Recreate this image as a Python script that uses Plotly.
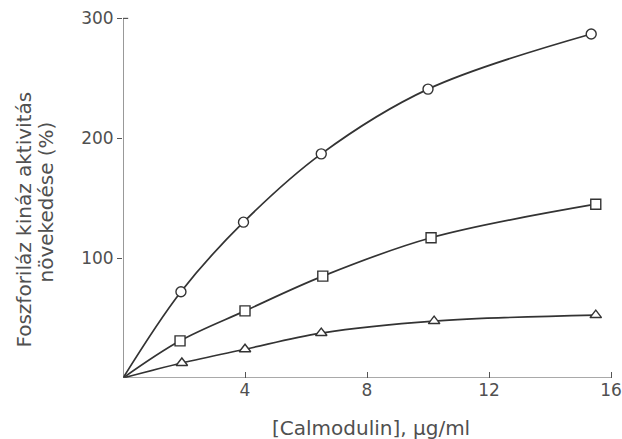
import plotly.graph_objects as go

# Data
x_circle = [0, 1.9, 3.95, 6.5, 10.0, 15.35]
y_circle = [0, 72, 130, 187, 241, 287]

x_square = [0, 1.87, 4.0, 6.55, 10.1, 15.5]
y_square = [0, 31, 56, 85, 117, 145]

x_triangle = [0, 1.93, 4.0, 6.5, 10.2, 15.5]
y_triangle = [0, 12.5, 24, 37.5, 47.5, 52.5]

x_ticks = [4, 8, 12, 16]
y_ticks = [100, 200, 300]

LINE = "#333333"
AXIS = "#555555"
TEXT = "#505050"
FONT = "DejaVu Sans"

fig = go.Figure()

def add_series(xs, ys, symbol):
    fig.add_trace(go.Scatter(
        x=xs, y=ys, mode="lines",
        line=dict(color=LINE, width=1.7, shape="spline", smoothing=1.0),
        hoverinfo="skip", showlegend=False))
    fig.add_trace(go.Scatter(
        x=xs[1:], y=ys[1:], mode="markers",
        marker=dict(symbol=symbol, size=10, color="white",
                    line=dict(color=LINE, width=1.4)),
        showlegend=False))

add_series(x_circle, y_circle, "circle")
add_series(x_square, y_square, "square")
add_series(x_triangle, y_triangle, "triangle-up")

# 100 y-units = 120 px, 1 x-unit = 30.625 px; origin at (123, 378)
fw, fh = 622, 439
YMAX = 302
XPX = 30.625
L = 123
W = fw - L
XMAX = W / XPX
H = 360 * YMAX / 300
T = 18 - (H - 360)

def px(x):
    return (x - L) / W

def py(y):
    return (378 - y) / H

tick_font = dict(size=17, color=TEXT, family=FONT)
title_font = dict(size=20, color=TEXT, family=FONT)

fig.update_layout(
    width=fw, height=fh,
    margin=dict(l=L, r=0, t=T, b=fh - 378),
    paper_bgcolor="white", plot_bgcolor="white",
    font=dict(family=FONT, color=TEXT, size=17),
    xaxis=dict(range=[0, XMAX], tickvals=x_ticks, ticktext=[str(v) for v in x_ticks],
               showline=False,
               ticks="inside", ticklen=6, tickcolor=AXIS, showgrid=False, zeroline=False,
               tickfont=tick_font, ticklabeloverflow="allow"),
    yaxis=dict(range=[0, YMAX], tickvals=y_ticks, ticktext=[str(v) for v in y_ticks],
               showline=False,
               ticks="outside", ticklen=5, tickcolor=AXIS, showgrid=False, zeroline=False,
               tickfont=tick_font, ticklabeloverflow="allow"),
    shapes=[
        dict(type="line", xref="x", yref="y", x0=0, x1=0, y0=0, y1=300,
             line=dict(color=AXIS, width=1.2)),
        dict(type="line", xref="x", yref="y", x0=0, x1=0.17, y0=300, y1=300,
             line=dict(color=AXIS, width=1.2)),
        dict(type="line", xref="x", yref="y", x0=0, x1=16, y0=0, y1=0,
             line=dict(color=AXIS, width=1.2)),
    ],
    annotations=[
        dict(text="Foszforiláz kináz aktivitás", xref="paper", yref="paper",
             x=px(24), y=py(219), textangle=-90,
             showarrow=False, xanchor="center", yanchor="middle", font=title_font),
        dict(text="növekedése (%)", xref="paper", yref="paper",
             x=px(46), y=py(202), textangle=-90,
             showarrow=False, xanchor="center", yanchor="middle", font=title_font),
        dict(text="[Calmodulin], μg/ml", xref="paper", yref="paper",
             x=px(372), y=py(428),
             showarrow=False, xanchor="center", yanchor="middle", font=title_font),
    ],
)

fig.write_html(
    "out.html",
    config={"displayModeBar": False},
    post_script="document.body.style.margin='0';"
                "document.documentElement.style.overflow='hidden';"
                "document.body.style.overflow='hidden';",
)
